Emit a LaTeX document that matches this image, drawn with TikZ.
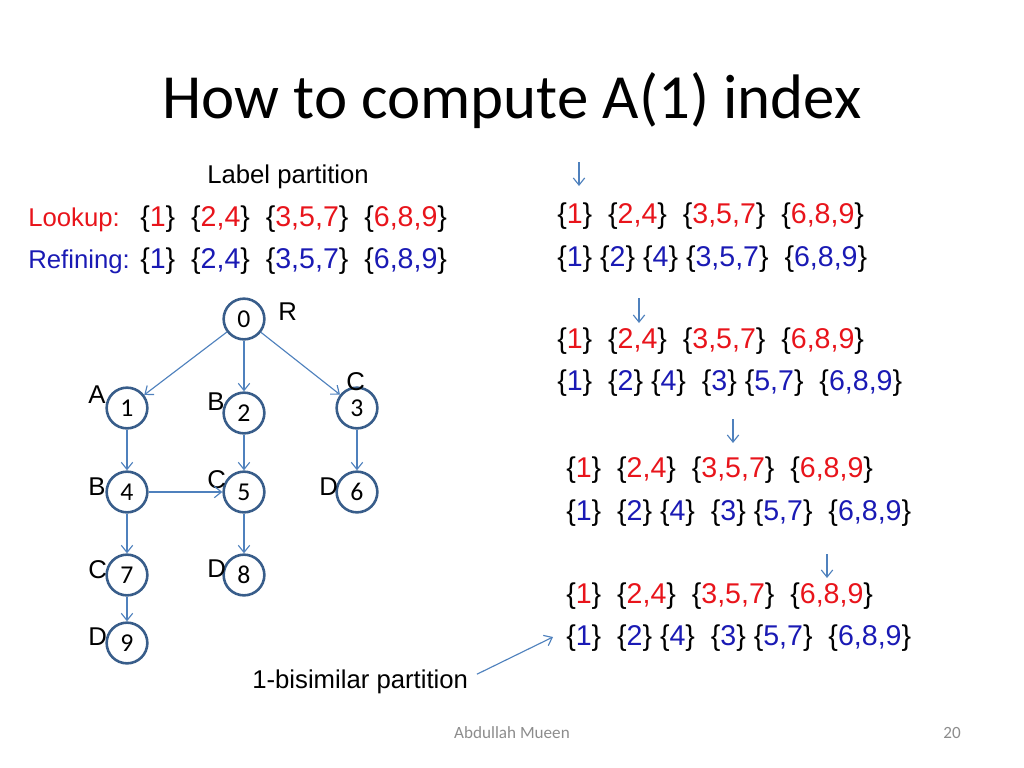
\documentclass[tikz,border=0pt]{standalone}
\usepackage{fontspec}
\setmainfont{Liberation Sans}
\newfontfamily\calibri{Carlito}
\usetikzlibrary{arrows.meta}

\definecolor{edgeblue}{HTML}{4F81BD}
\definecolor{ringblue}{HTML}{385D8A}
\definecolor{setred}{HTML}{E8141B}
\definecolor{setblue}{HTML}{1A1AB4}
\definecolor{footgray}{HTML}{8C8C8C}

\newcommand{\rs}[1]{\{{\color{setred}#1}\}}
\newcommand{\bs}[1]{\{{\color{setblue}#1}\}}

\tikzset{
  vertex/.style={circle, draw=ringblue, line width=1.8pt, fill=white, minimum size=28.5pt, inner sep=0, font=\calibri\fontsize{18}{18}\selectfont},
  lbl/.style={anchor=base west, inner sep=0, font=\fontsize{18}{18}\selectfont},
  row/.style={anchor=base west, inner sep=0, font=\fontsize{20}{20}\selectfont},
  edge/.style={draw=edgeblue, line width=0.8pt, -{Straight Barb[length=5pt,width=8pt]}}
}

\begin{document}
\begin{tikzpicture}[x=0.7pt, y=-0.7pt]

\useasboundingbox (0,0) rectangle (1024,768);

\node [anchor=base, inner sep=0, font=\calibri\fontsize{44}{44}\selectfont] (title) at (512,118) {How to compute A(1) index};

\node [lbl] (labelpart) at (207,183) {Label partition};
\node [lbl, text=setred] (lookup) at (28,226) {Lookup:};
\node [row] (lookupsets) at (140,226) {\rs{1}\ \ \rs{2,4}\ \ \rs{3,5,7}\ \ \rs{6,8,9}};
\node [lbl, text=setblue] (refining) at (28,268) {Refining:};
\node [row] (refinesets) at (140,268) {\bs{1}\ \ \bs{2,4}\ \ \bs{3,5,7}\ \ \bs{6,8,9}};

% tree
\node [vertex] (n0) at (244,319) {0};
\node [vertex] (n1) at (127,408) {1};
\node [vertex] (n2) at (244,413) {2};
\node [vertex] (n3) at (357,408) {3};
\node [vertex] (n4) at (127,492) {4};
\node [vertex] (n5) at (244,492) {5};
\node [vertex] (n6) at (357,492) {6};
\node [vertex] (n7) at (127,575) {7};
\node [vertex] (n8) at (244,575) {8};
\node [vertex] (n9) at (127,643) {9};

\node [lbl] (lR) at (278,320) {R};
\node [lbl] (lA) at (88,403) {A};
\node [lbl] (lB2) at (207,410) {B};
\node [lbl] (lC3) at (346,390) {C};
\node [lbl] (lB4) at (88,495) {B};
\node [lbl] (lC5) at (207,488) {C};
\node [lbl] (lD6) at (319,495) {D};
\node [lbl] (lC7) at (88,578) {C};
\node [lbl] (lD8) at (207,577) {D};
\node [lbl] (lD9) at (88,645) {D};

\draw [edge] (n0) -- (n1);
\draw [edge] (n0) -- (n2);
\draw [edge] (n0) -- (n3);
\draw [edge] (n1) -- (n4);
\draw [edge] (n2) -- (n5);
\draw [edge] (n3) -- (n6);
\draw [edge] (n4) -- (n5);
\draw [edge] (n4) -- (n7);
\draw [edge] (n5) -- (n8);
\draw [edge] (n7) -- (n9);

% refinement steps
\node [row] (look1) at (557,223) {\rs{1}\ \ \rs{2,4}\ \ \rs{3,5,7}\ \ \rs{6,8,9}};
\node [row] (ref1) at (557,266) {\bs{1} \bs{2} \bs{4} \bs{3,5,7}\ \ \bs{6,8,9}};
\node [row] (look2) at (557,348) {\rs{1}\ \ \rs{2,4}\ \ \rs{3,5,7}\ \ \rs{6,8,9}};
\node [row] (ref2) at (557,390) {\bs{1}\ \ \bs{2} \bs{4}\ \ \bs{3} \bs{5,7}\ \ \bs{6,8,9}};
\node [row] (look3) at (566,477) {\rs{1}\ \ \rs{2,4}\ \ \rs{3,5,7}\ \ \rs{6,8,9}};
\node [row] (ref3) at (566,520) {\bs{1}\ \ \bs{2} \bs{4}\ \ \bs{3} \bs{5,7}\ \ \bs{6,8,9}};
\node [row] (look4) at (566,603) {\rs{1}\ \ \rs{2,4}\ \ \rs{3,5,7}\ \ \rs{6,8,9}};
\node [row] (ref4) at (566,645) {\bs{1}\ \ \bs{2} \bs{4}\ \ \bs{3} \bs{5,7}\ \ \bs{6,8,9}};

\coordinate (p1a) at (579,162); \coordinate (p1b) at (579,186);
\coordinate (p2a) at (639,298); \coordinate (p2b) at (639,323);
\coordinate (p3a) at (733,419); \coordinate (p3b) at (733,443);
\coordinate (p4a) at (827,554); \coordinate (p4b) at (827,578);
\draw [edge] (p1a) -- (p1b);
\draw [edge] (p2a) -- (p2b);
\draw [edge] (p3a) -- (p3b);
\draw [edge] (p4a) -- (p4b);

\node [lbl] (bisim) at (252,688) {1-bisimilar partition};
\coordinate (bisimtip) at (553,637);
\draw [edge] ([xshift=6pt, yshift=5pt]bisim.east) -- (bisimtip);

\node [anchor=base, inner sep=0, text=footgray, font=\calibri\fontsize{12}{12}\selectfont] (author) at (512,738) {Abdullah Mueen};
\node [anchor=base, inner sep=0, text=footgray, font=\calibri\fontsize{12}{12}\selectfont] (page) at (952,738) {20};

\end{tikzpicture}
\end{document}
